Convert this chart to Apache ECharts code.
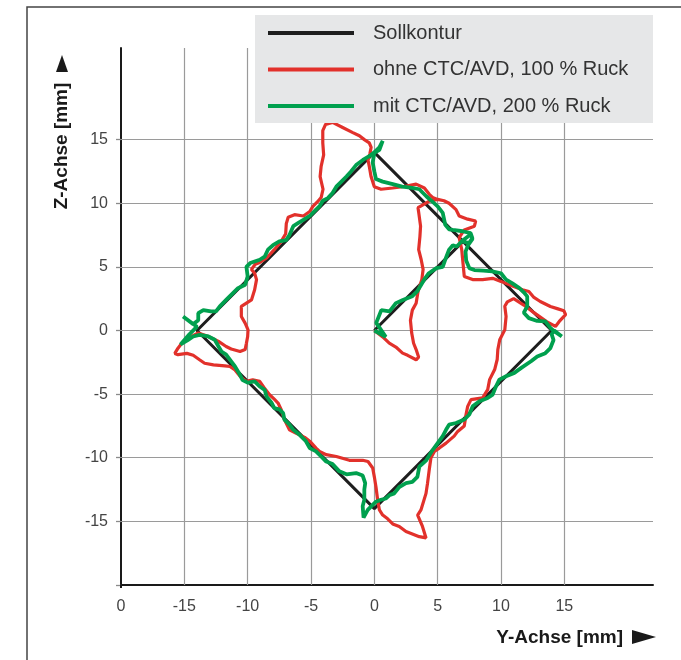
<!DOCTYPE html>
<html><head><meta charset="utf-8">
<script src="https://cdn.jsdelivr.net/npm/echarts@6/dist/echarts.min.js"></script>
<style>html,body{margin:0;padding:0;background:#fff}#c{width:681px;height:660px}</style>
</head><body><div id="c"></div><script>
const seriesNames = ['Sollkontur', 'ohne CTC/AVD, 100 % Ruck', 'mit CTC/AVD, 200 % Ruck'];
const sollkontur = [[0,0],[7,7],[14,0],[0,-14],[-14,0],[0,14],[7,7]];
const ohne = [
[0,0],[0.66,-0.5],[1.18,-1.0],[1.7,-1.3],[2.23,-1.78],[2.63,-1.95],[3.3,-2.3],[3.5,-2.1],[3.3,-1.5],[3.1,-1.0],[2.95,-0.2],[2.85,0.8],[3.0,1.6],[3.3,2.15],[3.45,3.07],[3.75,4.0],[3.85,4.8],[3.7,5.56],[3.5,6.35],[3.6,7.4],[3.65,8.2],[3.5,9.3],[3.45,9.65],[3.7,9.8],[4.34,10.16],[5.0,10.3],[5.5,10.2],[5.9,10.0],[6.45,9.5],[6.7,9.0],[7.37,8.75],[8.0,8.6],[7.9,8.2],[7.1,7.9],[6.7,7.3],[6.9,6.35],[7.0,5.3],[7.1,4.25],[7.76,4.0],[8.55,4.0],[9.34,4.1],[10.0,3.86],[10.9,3.5],[11.7,3.2],[12.2,3.07],[12.6,2.6],[13.1,2.28],[13.9,1.89],[14.5,1.7],[14.96,1.55],[15.1,1.24],[14.6,0.71],[14.3,0.32],[13.6,0.7],[12.6,1.4],[11.8,2.0],[11.0,2.5],[10.5,2.25],[10.3,1.9],[10.4,1.1],[10.3,0.05],[9.9,-0.73],[9.75,-1.5],[9.7,-2.28],[9.5,-3.07],[9.1,-3.86],[8.95,-4.65],[8.55,-5.3],[7.63,-5.43],[7.37,-5.96],[7.24,-6.6],[7.1,-7.5],[6.58,-7.93],[6.3,-8.3],[5.66,-8.85],[5.13,-9.24],[4.74,-9.5],[4.47,-10.0],[4.34,-10.9],[4.2,-12.0],[4.08,-12.8],[3.68,-14.1],[3.42,-14.5],[3.8,-15.4],[4.08,-16.3],[3.55,-16.2],[2.5,-15.8],[1.97,-15.4],[1.45,-15.2],[1.05,-14.8],[0.66,-14.5],[0.4,-14.1],[0.26,-13.3],[0.13,-12.3],[0,-11.5],[-0.13,-10.8],[-0.5,-10.3],[-0.92,-10.2],[-1.97,-10.2],[-3.0,-9.9],[-3.8,-9.76],[-4.33,-9.5],[-4.6,-9.24],[-5.1,-8.7],[-5.5,-8.4],[-6.2,-8.06],[-6.7,-7.8],[-7.1,-7.0],[-7.35,-6.23],[-7.6,-5.7],[-7.9,-5.4],[-8.27,-5.05],[-8.7,-4.5],[-9.05,-4.0],[-9.6,-3.87],[-10.1,-4.0],[-10.6,-3.6],[-11.0,-3.1],[-11.4,-2.83],[-11.8,-2.78],[-12.7,-2.7],[-13.4,-2.57],[-13.8,-2.3],[-14.3,-1.95],[-14.8,-1.8],[-15.5,-1.9],[-15.75,-1.8],[-15.5,-1.39],[-15.2,-1.0],[-14.5,-0.5],[-13.9,-0.2],[-13.1,-0.47],[-12.3,-0.86],[-11.7,-1.26],[-11.3,-1.45],[-10.6,-1.65],[-10.2,-1.5],[-10.1,-1.0],[-10.0,-0.47],[-9.97,0.05],[-10.2,0.58],[-10.5,1.1],[-10.5,1.9],[-10.1,2.15],[-9.7,2.4],[-9.45,3.2],[-9.3,4.0],[-9.45,4.5],[-9.7,4.8],[-9.4,5.2],[-9.05,5.35],[-8.5,5.7],[-7.9,6.35],[-7.35,7.0],[-7.0,7.6],[-6.95,8.4],[-6.8,8.9],[-6.3,9.1],[-5.6,9.0],[-5.1,9.35],[-4.85,9.75],[-4.5,10.1],[-4.2,10.45],[-4.05,11.1],[-4.28,12.1],[-4.2,12.9],[-4.0,13.8],[-4.07,14.75],[-4.07,15.7],[-3.85,16.2],[-3.3,16.35],[-2.5,15.95],[-1.7,15.55],[-1.18,15.3],[-0.79,15.0],[-0.4,14.75],[-0.25,14.4],[-0.35,13.9],[-0.5,13.4],[-0.4,12.9],[-0.26,12.1],[-0.1,11.6],[0,11.3],[0.53,11.1],[1.45,11.2],[2.24,11.3],[3.3,11.5],[3.95,11.2],[4.34,10.7],[4.6,10.45],[5.0,10.3]
];
const mit = [
[0,0],[0.9,-0.5],[0.15,0.6],[0.55,1.6],[1.2,1.5],[1.7,2.15],[2.25,2.4],[3.0,2.7],[3.4,3.1],[3.7,3.6],[4.0,4.1],[4.3,4.5],[4.9,4.9],[5.4,5.0],[5.65,5.7],[5.9,6.35],[6.2,6.7],[6.5,6.6],[7.0,7.1],[7.6,7.55],[7.75,7.2],[7.4,6.7],[7.2,6.2],[7.25,5.5],[7.5,4.9],[7.9,4.75],[8.6,4.7],[9.3,4.65],[10.0,4.5],[10.4,4.0],[10.9,3.7],[11.45,3.33],[11.8,3.0],[12.07,2.68],[12.07,1.9],[11.8,1.4],[12.2,0.97],[12.86,0.75],[13.5,0.72],[13.9,0.2],[14.2,-0.05],[14.8,-0.47],[14.2,0.0],[14.0,-0.3],[14.15,-0.75],[13.9,-1.38],[13.5,-1.78],[12.86,-2.04],[12.4,-2.4],[11.6,-2.94],[11.05,-3.33],[10.4,-3.6],[9.87,-3.86],[9.6,-4.4],[9.34,-5.04],[8.95,-5.3],[8.3,-5.56],[7.76,-5.96],[7.5,-6.6],[7.1,-7.0],[6.45,-7.27],[5.9,-7.4],[5.66,-7.8],[5.4,-8.3],[5.0,-8.85],[4.6,-9.4],[4.1,-10.2],[3.55,-10.7],[3.4,-11.5],[3.0,-11.9],[2.5,-12.0],[1.97,-12.3],[1.57,-12.8],[1.18,-12.95],[0.92,-13.2],[0.52,-13.3],[0.13,-13.45],[-0.13,-13.7],[-0.52,-14.1],[-0.85,-14.7],[-0.92,-13.8],[-0.79,-13.3],[-0.79,-12.5],[-0.72,-12.0],[-0.92,-11.4],[-1.44,-11.2],[-2.2,-11.3],[-2.76,-11.07],[-3.3,-10.5],[-3.8,-10.3],[-4.2,-9.9],[-4.6,-9.5],[-5.1,-9.24],[-5.4,-8.7],[-5.9,-8.2],[-6.4,-7.8],[-6.7,-7.4],[-7.1,-7.0],[-7.2,-6.5],[-7.5,-6.2],[-7.9,-6.1],[-8.1,-5.7],[-8.5,-5.2],[-8.66,-4.66],[-9.05,-4.4],[-9.45,-4.0],[-9.97,-4.1],[-10.4,-3.9],[-10.6,-3.5],[-11.0,-2.83],[-11.3,-2.43],[-11.7,-1.9],[-12.07,-1.65],[-12.3,-1.26],[-12.6,-0.73],[-13.1,-0.47],[-13.8,-0.34],[-14.3,-0.47],[-14.7,-0.73],[-15.3,-1.1],[-14.6,-0.3],[-14.0,0.3],[-15.1,1.1],[-14.3,0.5],[-13.9,0.8],[-13.9,1.36],[-13.5,1.6],[-12.9,1.5],[-12.5,1.5],[-12.2,1.9],[-11.7,2.4],[-11.2,2.9],[-10.8,3.3],[-10.2,3.6],[-10.0,4.25],[-10.1,5.0],[-9.8,5.3],[-9.05,5.56],[-8.66,5.8],[-8.4,6.35],[-8.0,6.7],[-7.5,7.0],[-6.96,7.1],[-6.7,7.5],[-6.4,8.2],[-6.0,8.45],[-5.6,8.7],[-5.1,9.0],[-4.7,9.4],[-4.3,9.8],[-4.07,10.2],[-3.67,10.4],[-3.3,10.8],[-3.0,11.3],[-2.6,11.7],[-2.2,12.1],[-1.84,12.5],[-1.44,13.0],[-0.9,13.4],[-0.4,13.7],[0,14.0],[0.4,14.4],[0.66,14.9],[0.4,14.2],[0.0,13.95],[-0.13,13.2],[0,12.5],[0.13,11.9],[0.66,11.7],[1.45,11.5],[2.2,11.3],[3.0,11.2],[3.55,11.1],[4.1,10.55],[4.5,10.2],[5.0,9.76],[5.4,9.24],[5.6,8.3],[5.9,7.95],[6.2,7.9],[6.96,7.8],[7.6,7.66],[7.74,7.26],[7.48,6.87],[6.96,7.0]
];
const xTickValues = [-20, -15, -10, -5, 0, 5, 10, 15];
const xTickLabels = ['0', '-15', '-10', '-5', '0', '5', '10', '15'];
const yTickValues = [-20, -15, -10, -5, 0, 5, 10, 15];
const yTickLabels = ['', '-15', '-10', '-5', '0', '5', '10', '15'];
const gridValues = [-15, -10, -5, 0, 5, 10, 15];
const xTitle = 'Y-Achse [mm]';
const yTitle = 'Z-Achse [mm]';

const FONT = '"Liberation Sans", Arial, sans-serif';
const chart = echarts.init(document.getElementById('c'), null, {renderer: 'canvas'});
const gridMarks = gridValues.map(v => ({xAxis: v})).concat(gridValues.map(v => ({yAxis: v})));
chart.setOption({
  animation: false,
  backgroundColor: '#fff',
  grid: {left: 121, right: 28, top: 48, bottom: 75, containLabel: false},
  xAxis: {
    type: 'value', min: -20, max: 22,
    axisLine: {show: true, onZero: false, lineStyle: {color: '#1a1a1a', width: 2}},
    axisTick: {show: true, customValues: [-20], length: 3, lineStyle: {color: '#1a1a1a', width: 2}},
    axisLabel: {customValues: xTickValues, formatter: v => { const i = xTickValues.indexOf(v); return i >= 0 ? xTickLabels[i] : ''; },
      color: '#444', fontSize: 16, margin: 14, fontFamily: FONT},
    splitLine: {show: false}
  },
  yAxis: {
    type: 'value', min: -20, max: 22.2,
    axisLine: {show: true, onZero: false, lineStyle: {color: '#1a1a1a', width: 2}},
    axisTick: {show: true, customValues: yTickValues, length: 5, lineStyle: {color: '#8a8a8a', width: 1.3}},
    axisLabel: {customValues: yTickValues, formatter: v => { const i = yTickValues.indexOf(v); return i >= 0 ? yTickLabels[i] : ''; },
      color: '#444', fontSize: 16, margin: 13, fontFamily: FONT},
    splitLine: {show: false}
  },
  legend: {
    orient: 'vertical', left: 268, top: 23, padding: 0, itemGap: 16.5,
    itemWidth: 86, itemHeight: 4, icon: 'rect', selectedMode: false,
    textStyle: {fontSize: 20, color: '#333', fontFamily: FONT, padding: [0, 0, 0, 14]},
    data: seriesNames, z: 10
  },
  graphic: [
    {type: 'rect', silent: true, z: -1, shape: {x: 27, y: 7, width: 700, height: 700}, style: {fill: 'none', stroke: '#444', lineWidth: 1.5}},
    {type: 'rect', silent: true, z: 3, shape: {x: 255, y: 15, width: 398, height: 108}, style: {fill: '#e6e7e8'}},
    {type: 'text', silent: true, x: 623, y: 638, style: {text: xTitle, align: 'right', verticalAlign: 'middle', fill: '#1a1a1a', fontSize: 19, fontWeight: 'bold', fontFamily: FONT}},
    {type: 'polygon', silent: true, shape: {points: [[632, 630], [632, 644], [656, 637]]}, style: {fill: '#1a1a1a'}},
    {type: 'text', silent: true, x: 62, y: 146, rotation: Math.PI / 2, style: {text: yTitle, align: 'center', verticalAlign: 'middle', fill: '#1a1a1a', fontSize: 19, fontWeight: 'bold', fontFamily: FONT}},
    {type: 'polygon', silent: true, shape: {points: [[56, 72], [68, 72], [62, 55]]}, style: {fill: '#1a1a1a'}}
  ],
  series: [
    {name: 'grid', type: 'line', data: [], z: 1, silent: true,
     markLine: {silent: true, z: 1, symbol: ['none', 'none'], label: {show: false}, animation: false,
       lineStyle: {color: '#9a9a9a', width: 1.2, type: 'solid'}, emphasis: {disabled: true}, data: gridMarks}},
    {name: seriesNames[0], type: 'line', data: sollkontur, showSymbol: false, symbol: 'none', silent: true, z: 2,
     lineStyle: {color: '#1e1e1e', width: 3}, itemStyle: {color: '#1e1e1e'}},
    {name: seriesNames[1], type: 'line', data: ohne, showSymbol: false, symbol: 'none', silent: true, z: 2,
     lineStyle: {color: '#e2312b', width: 3.2}, itemStyle: {color: '#e2312b'}},
    {name: seriesNames[2], type: 'line', data: mit, showSymbol: false, symbol: 'none', silent: true, z: 2,
     lineStyle: {color: '#00a04e', width: 3.8}, itemStyle: {color: '#00a04e'}}
  ]
});
</script></body></html>
